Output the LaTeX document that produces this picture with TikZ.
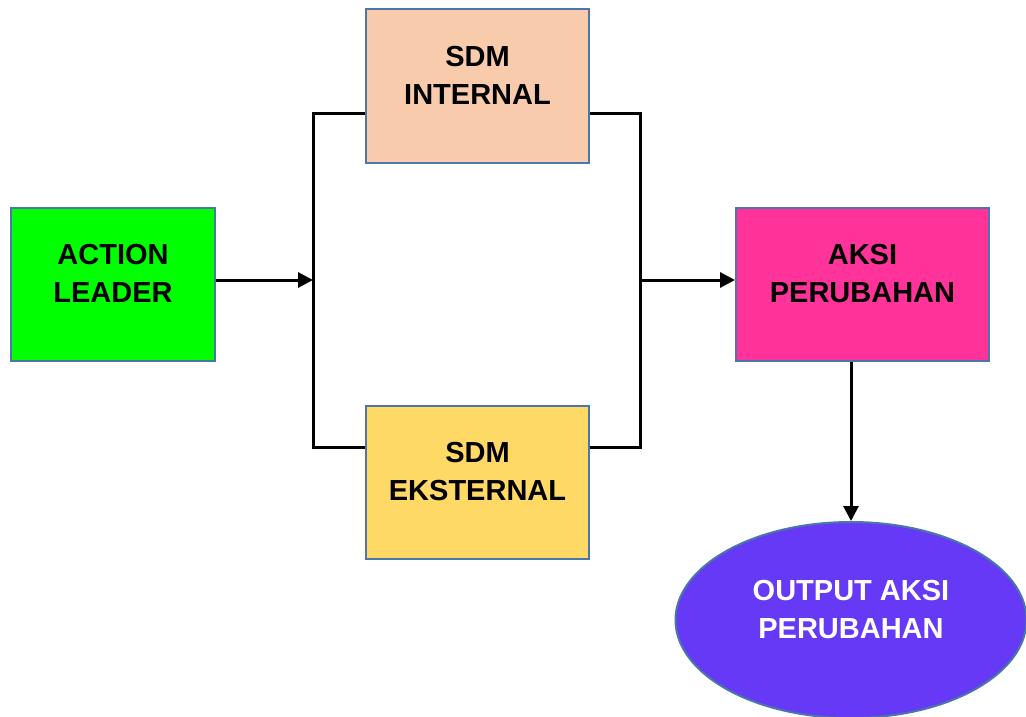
\documentclass[tikz,border=0pt]{standalone}
\usepackage{fontspec}
\setmainfont{Liberation Sans}
\usetikzlibrary{arrows.meta,shapes.geometric}
\definecolor{bordc}{HTML}{4A76A8}
\definecolor{cgreen}{HTML}{00FF00}
\definecolor{cpeach}{HTML}{F8CBAD}
\definecolor{cyellow}{HTML}{FFD966}
\definecolor{cpink}{HTML}{FF3399}
\definecolor{cpurple}{HTML}{6639F7}
\tikzset{
  box/.style={draw=bordc, line width=2pt, minimum width=#1, align=center, font=\fontsize{29}{38}\selectfont\bfseries, inner sep=0pt},
  conn/.style={line width=3pt},
  arr/.style={conn, -{Triangle[length=15pt,width=15pt]}}
}
\begin{document}
\begin{tikzpicture}[x=1pt,y=-1pt]
\useasboundingbox (0,0) rectangle (1026,717);
\node[box=204pt, minimum height=153pt, fill=cgreen] (al) at (113,284.5) {ACTION\\LEADER\\[-16pt]};
\node[box=223pt, minimum height=154pt, fill=cpeach] (si) at (477.5,86) {SDM\\INTERNAL\\[-16pt]};
\node[box=223pt, minimum height=153pt, fill=cyellow] (se) at (477.5,482.5) {SDM\\EKSTERNAL\\[-16pt]};
\node[box=253pt, minimum height=153pt, fill=cpink] (ap) at (862.5,284.5) {AKSI\\PERUBAHAN\\[-16pt]};
\node[draw=bordc, line width=2pt, fill=cpurple, ellipse, minimum width=351pt, minimum height=196pt, inner sep=0pt, text=white, align=center, font=\fontsize{29}{38}\selectfont\bfseries] (out) at (851,620) {OUTPUT AKSI\\PERUBAHAN\\[-16pt]};
\coordinate (lj) at (313,280);
\coordinate (rj) at (640,280);
\draw[conn] (si.west |- 0,113) -- (313,113) -- (313,447) -- (se.west |- 0,447);
\draw[conn] (si.east |- 0,113) -- (640,113) -- (640,447) -- (se.east |- 0,447);
\draw[arr] (al.east |- lj) -- (lj);
\draw[arr] (rj) -- (ap.west |- rj);
\draw[arr] (ap.south -| out.north) -- (out.north);
\end{tikzpicture}
\end{document}
